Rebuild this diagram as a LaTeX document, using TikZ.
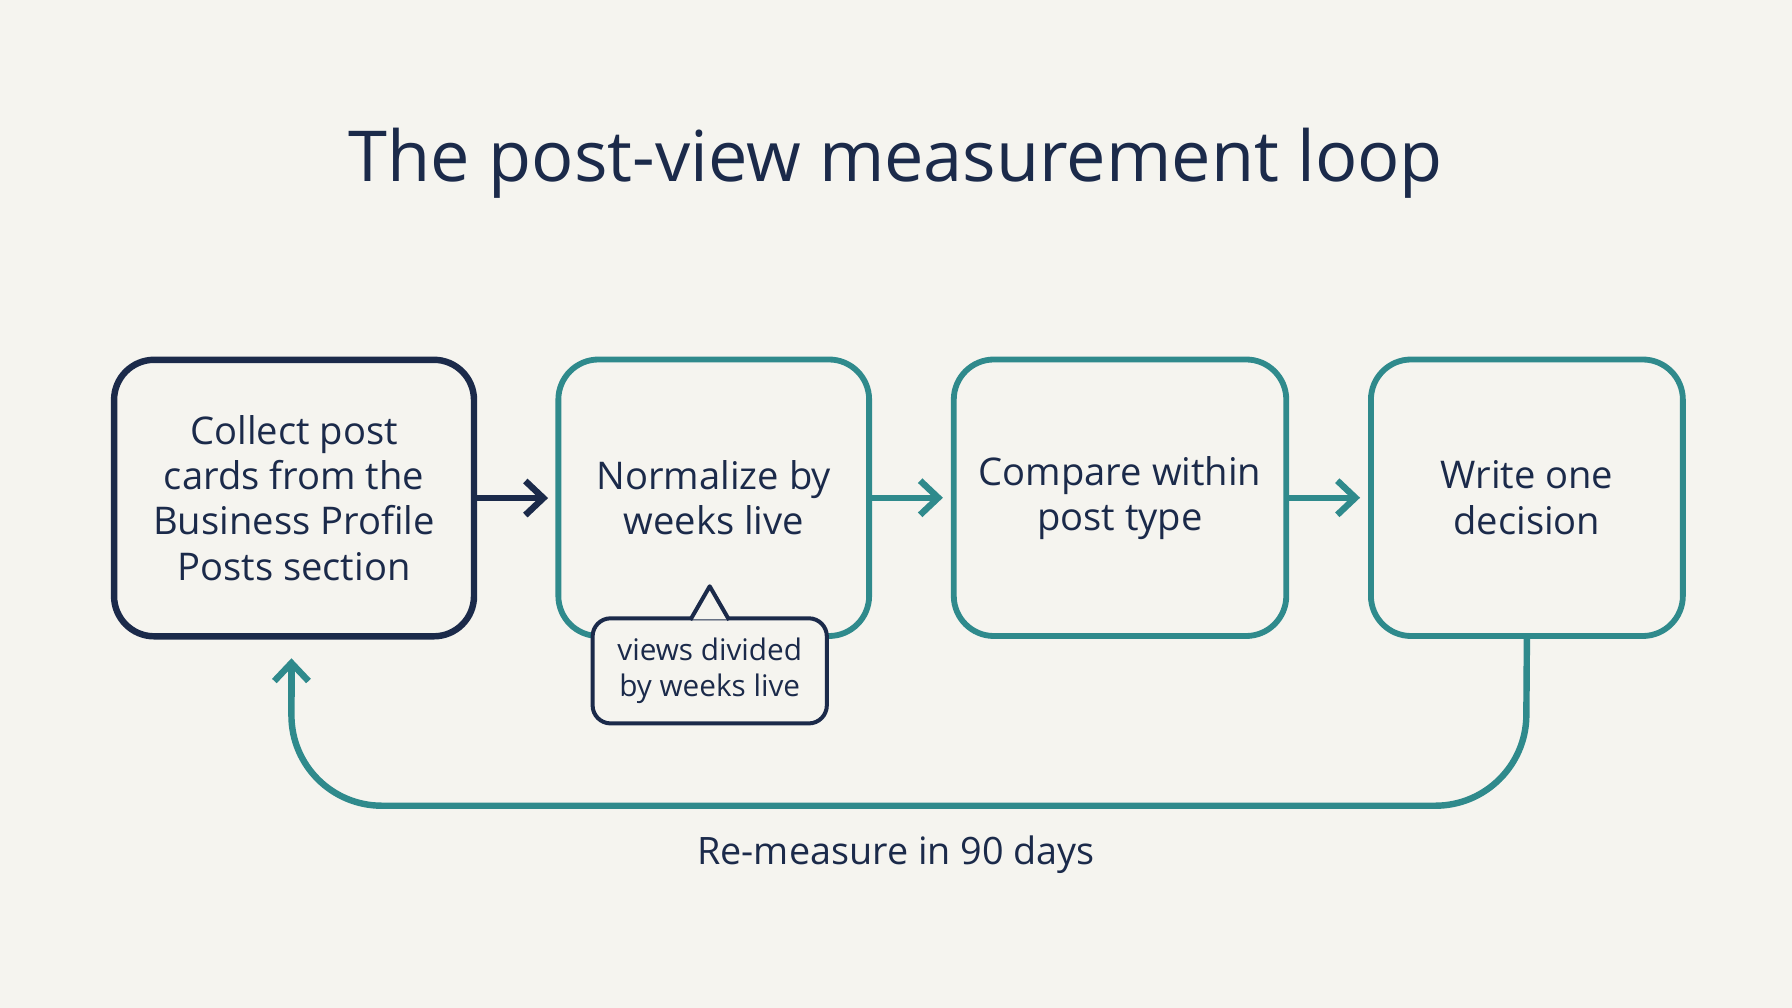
\documentclass[tikz,border=0pt]{standalone}
\usepackage{fontspec}
\setmainfont{Open Sans}
\usetikzlibrary{arrows.meta}
\definecolor{navy}{HTML}{1B2A4A}
\definecolor{teal}{HTML}{2F8A8C}
\definecolor{bg}{HTML}{F5F4EF}
\begin{document}
\begin{tikzpicture}[x=0.02cm,y=-0.02cm,
  box/.style={draw=teal,line width=2.9pt,rounded corners=20pt,fill=bg,align=center,font=\fontsize{19}{22.5}\selectfont,text=navy},
  arr/.style={line width=3.2pt,-{Straight Barb[length=9pt,width=17pt,line width=3.2pt]}}]
\fill[bg] (0,0) rectangle (1568,882);
\node[font=\fontsize{35}{42}\selectfont,text=navy] (title) at (784,143) {The post-view measurement loop};
\node[box,draw=navy,line width=3.2pt,anchor=north west,inner sep=0pt,minimum width=6.3cm,minimum height=4.84cm] (b1) at (97,312) {Collect post\\cards from the\\Business Profile\\Posts section};
\node[box,anchor=north west,inner sep=0pt,minimum width=5.44cm,minimum height=4.84cm] (b2) at (486,312) {Normalize by\\weeks live};
\node[box,anchor=north west,inner sep=0pt,minimum width=5.82cm,minimum height=4.84cm] (b3) at (832,312) {Compare within\\post type};
\node[box,anchor=north west,inner sep=0pt,minimum width=5.46cm,minimum height=4.84cm] (b4) at (1197,312) {Write one\\decision};
\draw[arr,navy] (b1.east) -- ++(62,0) coordinate (a1);
\draw[arr,teal] (b2.east) -- ++(62,0) coordinate (a2);
\draw[arr,teal] (b3.east) -- ++(62,0) coordinate (a3);
% callout
\node[draw=navy,line width=2pt,rounded corners=9pt,fill=bg,align=center,inner sep=0pt,minimum width=4.1cm,minimum height=1.84cm,font=\fontsize{14.8}{18}\selectfont,text=navy] (c) at (621,587) {views divided\\by weeks live};
\coordinate (tip) at (621,513);
\fill[bg] (604,542) -- (tip) -- (638,542) -- cycle;
\draw[navy,line width=2pt,line join=round] (604,542.5) -- (tip) -- (638,542.5);
% loop
\coordinate (lc) at (255,576);
\draw[teal,line width=3.2pt,rounded corners=45pt] (b4.south) -- (1335,705) -- (255,705) -- (255,600);
\draw[arr,teal] (255,610) -- (lc);
\node[font=\fontsize{18.8}{22}\selectfont,text=navy] (lbl) at (784,748) {Re-measure in 90 days};
\end{tikzpicture}
\end{document}
